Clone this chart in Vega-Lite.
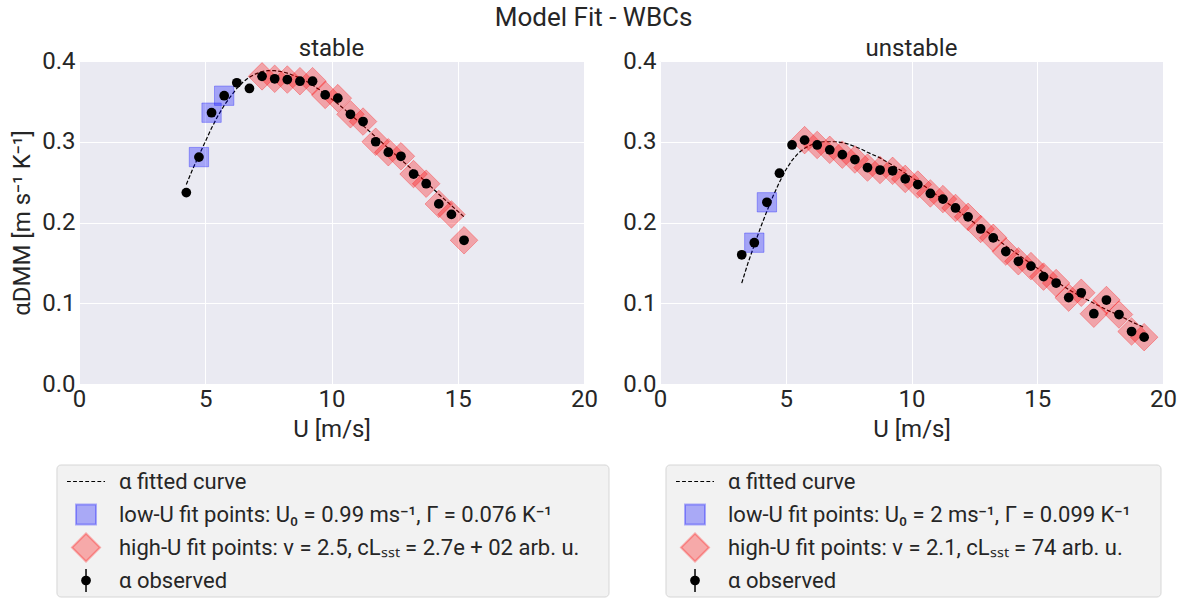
{
  "$schema": "https://vega.github.io/schema/vega-lite/v6.json",
  "background": "white",
  "padding": {"left": 10, "top": 5, "right": 5, "bottom": 0},
  "title": {"text": "Model Fit - WBCs", "fontSize": 26, "fontWeight": "normal", "color": "#262626", "font": "Roboto", "anchor": "middle", "frame": "bounds", "baseline": "top", "offset": 6},
  "datasets": {
    "stable_obs": [
      {"U": 4.25, "alpha": 0.237, "fit": "none"},
      {"U": 4.75, "alpha": 0.281, "fit": "low"},
      {"U": 5.25, "alpha": 0.336, "fit": "low"},
      {"U": 5.75, "alpha": 0.357, "fit": "low"},
      {"U": 6.25, "alpha": 0.373, "fit": "none"},
      {"U": 6.75, "alpha": 0.366, "fit": "none"},
      {"U": 7.25, "alpha": 0.381, "fit": "high"},
      {"U": 7.75, "alpha": 0.378, "fit": "high"},
      {"U": 8.25, "alpha": 0.377, "fit": "high"},
      {"U": 8.75, "alpha": 0.375, "fit": "high"},
      {"U": 9.25, "alpha": 0.375, "fit": "high"},
      {"U": 9.75, "alpha": 0.358, "fit": "high"},
      {"U": 10.25, "alpha": 0.354, "fit": "high"},
      {"U": 10.75, "alpha": 0.334, "fit": "high"},
      {"U": 11.25, "alpha": 0.325, "fit": "high"},
      {"U": 11.75, "alpha": 0.300, "fit": "high"},
      {"U": 12.25, "alpha": 0.287, "fit": "high"},
      {"U": 12.75, "alpha": 0.282, "fit": "high"},
      {"U": 13.25, "alpha": 0.260, "fit": "high"},
      {"U": 13.75, "alpha": 0.248, "fit": "high"},
      {"U": 14.25, "alpha": 0.223, "fit": "high"},
      {"U": 14.75, "alpha": 0.210, "fit": "high"},
      {"U": 15.25, "alpha": 0.178, "fit": "high"}
    ],
    "stable_curve": [
      {"U": 4.25, "alpha": 0.247}, {"U": 4.5, "alpha": 0.266}, {"U": 4.75, "alpha": 0.283},
      {"U": 5.0, "alpha": 0.300}, {"U": 5.25, "alpha": 0.317}, {"U": 5.5, "alpha": 0.332},
      {"U": 5.75, "alpha": 0.345}, {"U": 6.0, "alpha": 0.356}, {"U": 6.25, "alpha": 0.366},
      {"U": 6.5, "alpha": 0.374}, {"U": 6.75, "alpha": 0.380}, {"U": 7.0, "alpha": 0.384},
      {"U": 7.25, "alpha": 0.387}, {"U": 7.5, "alpha": 0.388}, {"U": 7.75, "alpha": 0.388},
      {"U": 8.0, "alpha": 0.387}, {"U": 8.25, "alpha": 0.385}, {"U": 8.5, "alpha": 0.382},
      {"U": 8.75, "alpha": 0.379}, {"U": 9.0, "alpha": 0.375}, {"U": 9.25, "alpha": 0.370},
      {"U": 9.5, "alpha": 0.365}, {"U": 9.75, "alpha": 0.359}, {"U": 10.25, "alpha": 0.347},
      {"U": 10.75, "alpha": 0.334}, {"U": 11.25, "alpha": 0.320}, {"U": 11.75, "alpha": 0.306},
      {"U": 12.25, "alpha": 0.292}, {"U": 12.75, "alpha": 0.278}, {"U": 13.25, "alpha": 0.264},
      {"U": 13.75, "alpha": 0.250}, {"U": 14.25, "alpha": 0.235}, {"U": 14.75, "alpha": 0.221},
      {"U": 15.25, "alpha": 0.207}
    ],
    "unstable_obs": [
      {"U": 3.25, "alpha": 0.160, "fit": "none"},
      {"U": 3.75, "alpha": 0.175, "fit": "low"},
      {"U": 4.25, "alpha": 0.225, "fit": "low"},
      {"U": 4.75, "alpha": 0.261, "fit": "none"},
      {"U": 5.25, "alpha": 0.296, "fit": "none"},
      {"U": 5.75, "alpha": 0.302, "fit": "high"},
      {"U": 6.25, "alpha": 0.296, "fit": "high"},
      {"U": 6.75, "alpha": 0.290, "fit": "high"},
      {"U": 7.25, "alpha": 0.284, "fit": "high"},
      {"U": 7.75, "alpha": 0.278, "fit": "high"},
      {"U": 8.25, "alpha": 0.268, "fit": "high"},
      {"U": 8.75, "alpha": 0.265, "fit": "high"},
      {"U": 9.25, "alpha": 0.264, "fit": "high"},
      {"U": 9.75, "alpha": 0.254, "fit": "high"},
      {"U": 10.25, "alpha": 0.247, "fit": "high"},
      {"U": 10.75, "alpha": 0.236, "fit": "high"},
      {"U": 11.25, "alpha": 0.229, "fit": "high"},
      {"U": 11.75, "alpha": 0.218, "fit": "high"},
      {"U": 12.25, "alpha": 0.207, "fit": "high"},
      {"U": 12.75, "alpha": 0.192, "fit": "high"},
      {"U": 13.25, "alpha": 0.181, "fit": "high"},
      {"U": 13.75, "alpha": 0.164, "fit": "high"},
      {"U": 14.25, "alpha": 0.152, "fit": "high"},
      {"U": 14.75, "alpha": 0.146, "fit": "high"},
      {"U": 15.25, "alpha": 0.133, "fit": "high"},
      {"U": 15.75, "alpha": 0.125, "fit": "high"},
      {"U": 16.25, "alpha": 0.107, "fit": "high"},
      {"U": 16.75, "alpha": 0.113, "fit": "high"},
      {"U": 17.25, "alpha": 0.087, "fit": "high"},
      {"U": 17.75, "alpha": 0.104, "fit": "high"},
      {"U": 18.25, "alpha": 0.086, "fit": "high"},
      {"U": 18.75, "alpha": 0.065, "fit": "high"},
      {"U": 19.25, "alpha": 0.058, "fit": "high"}
    ],
    "unstable_curve": [
      {"U": 3.25, "alpha": 0.125}, {"U": 3.5, "alpha": 0.150}, {"U": 3.75, "alpha": 0.172},
      {"U": 4.0, "alpha": 0.194}, {"U": 4.25, "alpha": 0.214}, {"U": 4.5, "alpha": 0.233},
      {"U": 4.75, "alpha": 0.250}, {"U": 5.0, "alpha": 0.265}, {"U": 5.25, "alpha": 0.277},
      {"U": 5.5, "alpha": 0.286}, {"U": 5.75, "alpha": 0.292}, {"U": 6.0, "alpha": 0.296},
      {"U": 6.25, "alpha": 0.299}, {"U": 6.5, "alpha": 0.300}, {"U": 6.75, "alpha": 0.300},
      {"U": 7.0, "alpha": 0.300}, {"U": 7.25, "alpha": 0.299}, {"U": 7.5, "alpha": 0.297},
      {"U": 7.75, "alpha": 0.294}, {"U": 8.0, "alpha": 0.291}, {"U": 8.25, "alpha": 0.287},
      {"U": 8.75, "alpha": 0.280}, {"U": 9.25, "alpha": 0.271}, {"U": 9.75, "alpha": 0.261},
      {"U": 10.25, "alpha": 0.251}, {"U": 10.75, "alpha": 0.240}, {"U": 11.25, "alpha": 0.228},
      {"U": 11.75, "alpha": 0.217}, {"U": 12.25, "alpha": 0.205}, {"U": 12.75, "alpha": 0.194},
      {"U": 13.25, "alpha": 0.183}, {"U": 13.75, "alpha": 0.171}, {"U": 14.25, "alpha": 0.160},
      {"U": 14.75, "alpha": 0.149}, {"U": 15.25, "alpha": 0.138}, {"U": 15.75, "alpha": 0.127},
      {"U": 16.25, "alpha": 0.117}, {"U": 16.75, "alpha": 0.108}, {"U": 17.25, "alpha": 0.100},
      {"U": 17.75, "alpha": 0.092}, {"U": 18.25, "alpha": 0.085}, {"U": 18.75, "alpha": 0.077},
      {"U": 19.25, "alpha": 0.070}
    ],
    "stable_legend": [
      {"entry": "α fitted curve", "sym": "curve"},
      {"entry": "low-U fit points: U₀ = 0.99 ms⁻¹, Γ = 0.076 K⁻¹", "sym": "low"},
      {"entry": "high-U fit points: ν = 2.5, cLₛₛₜ = 2.7e + 02 arb. u.", "sym": "high"},
      {"entry": "α observed", "sym": "obs"}
    ],
    "unstable_legend": [
      {"entry": "α fitted curve", "sym": "curve"},
      {"entry": "low-U fit points: U₀ = 2 ms⁻¹, Γ = 0.099 K⁻¹", "sym": "low"},
      {"entry": "high-U fit points: ν = 2.1, cLₛₛₜ = 74 arb. u.", "sym": "high"},
      {"entry": "α observed", "sym": "obs"}
    ],
    "box": [{"box": 1}]
  },
  "spacing": 12,
  "hconcat": [
    {
      "spacing": 23,
      "vconcat": [
        {
          "width": 505, "height": 323,
          "title": {"text": "stable"},
          "encoding": {
            "x": {"field": "U", "type": "quantitative", "scale": {"domain": [0, 20], "nice": false}, "axis": {"values": [0, 5, 10, 15, 20], "title": "U [m/s]"}},
            "y": {"field": "alpha", "type": "quantitative", "scale": {"domain": [0, 0.4], "nice": false}, "axis": {"values": [0, 0.1, 0.2, 0.3, 0.4], "format": ".1f", "title": "αDMM [m s⁻¹ K⁻¹]"}}
          },
          "layer": [
            {"data": {"name": "stable_curve"}, "mark": {"type": "line", "color": "black", "strokeWidth": 1.2, "strokeDash": [4, 2]}},
            {"data": {"name": "stable_obs"}, "transform": [{"filter": "datum.fit === 'low'"}], "mark": {"type": "point", "shape": "square", "filled": true, "size": 375, "fill": "#0000FF", "fillOpacity": 0.3, "stroke": "#0000FF", "strokeOpacity": 0.3, "strokeWidth": 1, "opacity": 1}},
            {"data": {"name": "stable_obs"}, "transform": [{"filter": "datum.fit === 'high'"}], "mark": {"type": "point", "shape": "diamond", "filled": true, "size": 760, "fill": "#FF0000", "fillOpacity": 0.3, "stroke": "#FF0000", "strokeOpacity": 0.3, "strokeWidth": 1, "opacity": 1}},
            {"data": {"name": "stable_obs"}, "mark": {"type": "point", "shape": "circle", "filled": true, "size": 95, "color": "black", "opacity": 1}}
          ]
        },
        {
          "width": 505, "height": 132,
          "view": {"fill": null, "stroke": null},
          "layer": [
            {"data": {"name": "box"}, "mark": {"type": "rect", "fill": "#F2F2F2", "stroke": "#D6D6D6", "strokeWidth": 1, "cornerRadius": 4},
             "encoding": {"x": {"datum": -0.0436, "type": "quantitative", "scale": {"domain": [0, 1]}, "axis": null}, "x2": {"datum": 1.0495}}},
            {"data": {"name": "stable_legend"}, "transform": [{"filter": "datum.sym === 'curve'"}],
             "mark": {"type": "point", "shape": "M-1,0h0.2M-0.68,0h0.2M-0.36,0h0.2M-0.04,0h0.2M0.28,0h0.2M0.6,0h0.2M0.92,0h0.08", "filled": false, "stroke": "black", "strokeWidth": 1.2, "size": 1444, "opacity": 1},
             "encoding": {"x": {"datum": 0.0139, "type": "quantitative"}, "y": {"field": "entry", "type": "nominal", "sort": null, "axis": null}}},
            {"data": {"name": "stable_legend"}, "transform": [{"filter": "datum.sym === 'low'"}],
             "mark": {"type": "point", "shape": "square", "filled": true, "size": 400, "fill": "#0000FF", "fillOpacity": 0.3, "stroke": "#0000FF", "strokeOpacity": 0.3, "opacity": 1},
             "encoding": {"x": {"datum": 0.0139, "type": "quantitative"}, "y": {"field": "entry", "type": "nominal", "sort": null, "axis": null}}},
            {"data": {"name": "stable_legend"}, "transform": [{"filter": "datum.sym === 'high'"}],
             "mark": {"type": "point", "shape": "diamond", "filled": true, "size": 784, "fill": "#FF0000", "fillOpacity": 0.3, "stroke": "#FF0000", "strokeOpacity": 0.3, "opacity": 1},
             "encoding": {"x": {"datum": 0.0139, "type": "quantitative"}, "y": {"field": "entry", "type": "nominal", "sort": null, "axis": null}}},
            {"data": {"name": "stable_legend"}, "transform": [{"filter": "datum.sym === 'obs'"}],
             "mark": {"type": "point", "shape": "M0,-1V1", "filled": false, "stroke": "black", "strokeWidth": 1.5, "size": 529, "opacity": 1},
             "encoding": {"x": {"datum": 0.0139, "type": "quantitative"}, "y": {"field": "entry", "type": "nominal", "sort": null, "axis": null}}},
            {"data": {"name": "stable_legend"}, "transform": [{"filter": "datum.sym === 'obs'"}],
             "mark": {"type": "point", "shape": "circle", "filled": true, "color": "black", "size": 95, "opacity": 1},
             "encoding": {"x": {"datum": 0.0139, "type": "quantitative"}, "y": {"field": "entry", "type": "nominal", "sort": null, "axis": null}}},
            {"data": {"name": "stable_legend"},
             "mark": {"type": "text", "align": "left", "baseline": "middle", "fontSize": 22, "font": "Roboto", "color": "#262626"},
             "encoding": {"x": {"datum": 0.0792, "type": "quantitative"}, "y": {"field": "entry", "type": "nominal", "sort": null, "axis": null}, "text": {"field": "entry"}}}
          ]
        }
      ]
    },
    {
      "spacing": 23,
      "vconcat": [
        {
          "width": 503, "height": 323,
          "title": {"text": "unstable"},
          "encoding": {
            "x": {"field": "U", "type": "quantitative", "scale": {"domain": [0, 20], "nice": false}, "axis": {"values": [0, 5, 10, 15, 20], "title": "U [m/s]"}},
            "y": {"field": "alpha", "type": "quantitative", "scale": {"domain": [0, 0.4], "nice": false}, "axis": {"values": [0, 0.1, 0.2, 0.3, 0.4], "format": ".1f", "title": null}}
          },
          "layer": [
            {"data": {"name": "unstable_curve"}, "mark": {"type": "line", "color": "black", "strokeWidth": 1.2, "strokeDash": [4, 2]}},
            {"data": {"name": "unstable_obs"}, "transform": [{"filter": "datum.fit === 'low'"}], "mark": {"type": "point", "shape": "square", "filled": true, "size": 375, "fill": "#0000FF", "fillOpacity": 0.3, "stroke": "#0000FF", "strokeOpacity": 0.3, "strokeWidth": 1, "opacity": 1}},
            {"data": {"name": "unstable_obs"}, "transform": [{"filter": "datum.fit === 'high'"}], "mark": {"type": "point", "shape": "diamond", "filled": true, "size": 760, "fill": "#FF0000", "fillOpacity": 0.3, "stroke": "#FF0000", "strokeOpacity": 0.3, "strokeWidth": 1, "opacity": 1}},
            {"data": {"name": "unstable_obs"}, "mark": {"type": "point", "shape": "circle", "filled": true, "size": 95, "color": "black", "opacity": 1}}
          ]
        },
        {
          "width": 503, "height": 132,
          "view": {"fill": null, "stroke": null},
          "layer": [
            {"data": {"name": "box"}, "mark": {"type": "rect", "fill": "#F2F2F2", "stroke": "#D6D6D6", "strokeWidth": 1, "cornerRadius": 4},
             "encoding": {"x": {"datum": 0.0119, "type": "quantitative", "scale": {"domain": [0, 1]}, "axis": null}, "x2": {"datum": 0.996}}},
            {"data": {"name": "unstable_legend"}, "transform": [{"filter": "datum.sym === 'curve'"}],
             "mark": {"type": "point", "shape": "M-1,0h0.2M-0.68,0h0.2M-0.36,0h0.2M-0.04,0h0.2M0.28,0h0.2M0.6,0h0.2M0.92,0h0.08", "filled": false, "stroke": "black", "strokeWidth": 1.2, "size": 1444, "opacity": 1},
             "encoding": {"x": {"datum": 0.0696, "type": "quantitative"}, "y": {"field": "entry", "type": "nominal", "sort": null, "axis": null}}},
            {"data": {"name": "unstable_legend"}, "transform": [{"filter": "datum.sym === 'low'"}],
             "mark": {"type": "point", "shape": "square", "filled": true, "size": 400, "fill": "#0000FF", "fillOpacity": 0.3, "stroke": "#0000FF", "strokeOpacity": 0.3, "opacity": 1},
             "encoding": {"x": {"datum": 0.0696, "type": "quantitative"}, "y": {"field": "entry", "type": "nominal", "sort": null, "axis": null}}},
            {"data": {"name": "unstable_legend"}, "transform": [{"filter": "datum.sym === 'high'"}],
             "mark": {"type": "point", "shape": "diamond", "filled": true, "size": 784, "fill": "#FF0000", "fillOpacity": 0.3, "stroke": "#FF0000", "strokeOpacity": 0.3, "opacity": 1},
             "encoding": {"x": {"datum": 0.0696, "type": "quantitative"}, "y": {"field": "entry", "type": "nominal", "sort": null, "axis": null}}},
            {"data": {"name": "unstable_legend"}, "transform": [{"filter": "datum.sym === 'obs'"}],
             "mark": {"type": "point", "shape": "M0,-1V1", "filled": false, "stroke": "black", "strokeWidth": 1.5, "size": 529, "opacity": 1},
             "encoding": {"x": {"datum": 0.0696, "type": "quantitative"}, "y": {"field": "entry", "type": "nominal", "sort": null, "axis": null}}},
            {"data": {"name": "unstable_legend"}, "transform": [{"filter": "datum.sym === 'obs'"}],
             "mark": {"type": "point", "shape": "circle", "filled": true, "color": "black", "size": 95, "opacity": 1},
             "encoding": {"x": {"datum": 0.0696, "type": "quantitative"}, "y": {"field": "entry", "type": "nominal", "sort": null, "axis": null}}},
            {"data": {"name": "unstable_legend"},
             "mark": {"type": "text", "align": "left", "baseline": "middle", "fontSize": 22, "font": "Roboto", "color": "#262626"},
             "encoding": {"x": {"datum": 0.1352, "type": "quantitative"}, "y": {"field": "entry", "type": "nominal", "sort": null, "axis": null}, "text": {"field": "entry"}}}
          ]
        }
      ]
    }
  ],
  "config": {
    "font": "Roboto",
    "view": {"stroke": null, "fill": "#EAEAF2"},
    "axis": {"domain": false, "ticks": false, "grid": true, "gridColor": "#FFFFFF", "gridWidth": 1, "labelFontSize": 24, "labelColor": "#262626", "labelFont": "Roboto", "titleFont": "Roboto", "titleFontSize": 24, "titleFontWeight": "normal", "titleColor": "#262626", "labelFlush": false, "labelOverlap": false},
    "axisX": {"labelPadding": 3, "titlePadding": 6},
    "axisY": {"labelPadding": 4, "titlePadding": 7},
    "title": {"fontSize": 24, "fontWeight": "normal", "color": "#262626", "font": "Roboto", "frame": "group", "baseline": "alphabetic", "offset": -12}
  }
}
